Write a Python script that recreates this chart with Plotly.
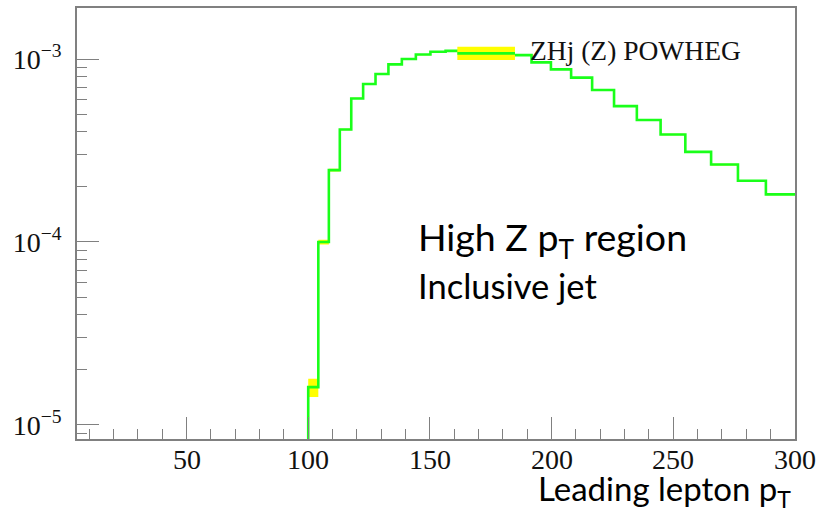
import plotly.graph_objects as go

# ---- data ----
bin_edges = [100.0, 104.15, 108.48, 112.98, 117.68, 122.56, 127.65, 132.95, 138.47,
             144.22, 150.21, 156.45, 162.95, 169.72, 176.77, 184.11, 191.75, 199.72,
             208.01, 216.65, 225.65, 235.02, 244.78, 254.94, 265.53, 276.56, 288.04, 300.0]
bin_values = [1.61e-5, 1.00e-4, 2.47e-4, 4.12e-4, 6.09e-4, 7.30e-4, 8.28e-4, 9.35e-4,
              1.00e-3, 1.058e-3, 1.096e-3, 1.108e-3, 1.11e-3, 1.105e-3, 1.085e-3,
              1.05e-3, 9.59e-4, 8.78e-4, 7.91e-4, 6.77e-4, 5.53e-4, 4.64e-4, 3.87e-4,
              3.11e-4, 2.65e-4, 2.16e-4, 1.82e-4]
band_upper = [1.79e-5, 1.03e-4, 2.51e-4, 4.16e-4, 6.14e-4, 7.36e-4, 8.35e-4, 9.43e-4,
              1.009e-3, 1.067e-3, 1.105e-3, 1.117e-3, 1.12e-3, 1.115e-3, 1.095e-3,
              1.06e-3, 9.67e-4, 8.86e-4, 7.98e-4, 6.83e-4, 5.58e-4, 4.68e-4, 3.91e-4,
              3.14e-4, 2.68e-4, 2.18e-4, 1.84e-4]
band_lower = [1.42e-5, 0.97e-4, 2.43e-4, 4.08e-4, 6.04e-4, 7.24e-4, 8.21e-4, 9.27e-4,
              0.991e-3, 1.049e-3, 1.087e-3, 1.099e-3, 1.10e-3, 1.095e-3, 1.075e-3,
              1.04e-3, 9.51e-4, 8.70e-4, 7.84e-4, 6.71e-4, 5.48e-4, 4.60e-4, 3.83e-4,
              3.08e-4, 2.62e-4, 2.14e-4, 1.80e-4]
empty_region_value = 1e-8   # histogram is empty below 100 GeV
x_range = [5, 300]
x_major_ticks = [50, 100, 150, 200, 250, 300]
x_tick_labels = ["50", "100", "150", "200", "250", "300"]
y_major_ticks = [1e-5, 1e-4, 1e-3]
y_tick_labels = ["10<sup>−5</sup>", "10<sup>−4</sup>", "10<sup>−3</sup>"]
legend_label = "ZHj (Z) POWHEG"
text_line1 = "High Z p<sub>T</sub> region"
text_line2 = "Inclusive jet"
x_title = "Leading lepton p<sub>T</sub>"

GREEN = "#1aff1a"
YELLOW = "#ffff00"
AXIS = "#808080"
SERIF = "Liberation Serif"
SANS = "Lato"

step_x = bin_edges[:-1] + [bin_edges[-1]]
step_hist_y = bin_values + [bin_values[-1]]
step_up_y = band_upper + [band_upper[-1]]
step_lo_y = band_lower + [band_lower[-1]]

fig = go.Figure()
fig.add_trace(go.Scatter(x=step_x, y=step_lo_y, mode="lines", line_shape="hv",
                         line=dict(width=0, color=YELLOW), showlegend=False,
                         hoverinfo="skip"))
fig.add_trace(go.Scatter(x=step_x, y=step_up_y, mode="lines", line_shape="hv",
                         line=dict(width=0, color=YELLOW), fill="tonexty",
                         fillcolor=YELLOW, showlegend=False, hoverinfo="skip"))
fig.add_trace(go.Scatter(x=[x_range[0]] + step_x,
                         y=[empty_region_value] + step_hist_y,
                         mode="lines", line_shape="hv",
                         line=dict(width=2.6, color=GREEN), showlegend=False))

# minor tick positions on the log axis (2..9 x 10^k)
y_minor = [m * 10.0 ** k for k in (-6, -5, -4, -3) for m in range(2, 10)]

fig.update_layout(
    width=817, height=511,
    margin=dict(l=77, r=22, t=8, b=72, autoexpand=False),
    paper_bgcolor="white", plot_bgcolor="white",
    font=dict(family=SERIF, size=28, color="black"),
    xaxis=dict(range=x_range, showline=True, mirror=True, linecolor=AXIS,
               linewidth=1.5, showgrid=False, zeroline=False, automargin=False,
               ticks="inside", ticklen=22, tickwidth=1.3, tickcolor=AXIS,
               tickmode="array", tickvals=x_major_ticks, showticklabels=False,
               minor=dict(ticks="inside", ticklen=10, tickwidth=1.3,
                          tickcolor=AXIS, dtick=10, tick0=0, showgrid=False)),
    yaxis=dict(type="log", range=[-5.077, -2.721], showline=True, mirror=True,
               linecolor=AXIS, linewidth=1.5, showgrid=False, zeroline=False,
               automargin=False,
               ticks="inside", ticklen=22, tickwidth=1.3, tickcolor=AXIS,
               tickmode="array", tickvals=y_major_ticks, ticktext=y_tick_labels,
               ticklabelstandoff=8,
               tickfont=dict(family=SERIF, size=28, color="#111"),
               minor=dict(ticks="inside", ticklen=10, tickwidth=1.3,
                          tickcolor=AXIS, tickmode="array", tickvals=y_minor,
                          showgrid=False)),
    showlegend=False,
)

# x tick labels placed just under the axis
for xv, lab in zip(x_major_ticks, x_tick_labels):
    fig.add_annotation(xref="x", yref="paper", x=xv, y=-0.047,
                       xanchor="center", yanchor="middle", showarrow=False,
                       text=lab, font=dict(family=SERIF, size=28, color="#111"))

# hand-drawn legend (swatch + label)
fig.add_shape(type="rect", xref="paper", yref="paper",
              x0=0.5297, x1=0.610, y0=0.8794, y1=0.9102,
              fillcolor=YELLOW, line=dict(width=0), layer="above")
fig.add_shape(type="line", xref="paper", yref="paper",
              x0=0.5297, x1=0.610, y0=0.8948, y1=0.8948,
              line=dict(color=GREEN, width=2.6), layer="above")
fig.add_annotation(xref="paper", yref="paper", x=0.628, y=0.902,
                   xanchor="left", yanchor="middle", showarrow=False,
                   text=legend_label,
                   font=dict(family=SERIF, size=27.5, color="#111"))

fig.add_annotation(xref="paper", yref="paper", x=0.472, y=0.462,
                   xanchor="left", yanchor="middle", showarrow=False,
                   text=text_line1,
                   font=dict(family=SANS, size=37.5, color="black"))
fig.add_annotation(xref="paper", yref="paper", x=0.472, y=0.356,
                   xanchor="left", yanchor="middle", showarrow=False,
                   text=text_line2,
                   font=dict(family=SANS, size=34.5, color="black"))
fig.add_annotation(xref="paper", yref="paper", x=0.997, y=-0.12,
                   xanchor="right", yanchor="middle", showarrow=False,
                   text=x_title,
                   font=dict(family=SANS, size=33, color="black"))

fig.write_html("out.html")
